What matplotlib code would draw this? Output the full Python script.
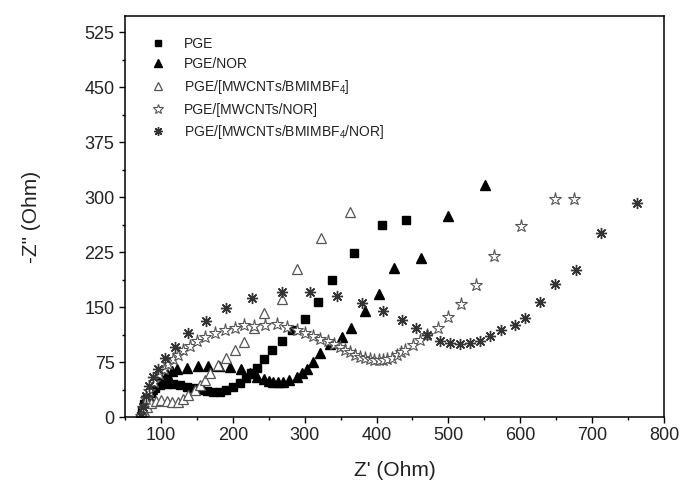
import matplotlib
matplotlib.use("Agg")
import matplotlib.pyplot as plt
from matplotlib.ticker import MultipleLocator

plt.rcParams['font.family'] = ['Liberation Sans', 'DejaVu Sans']
plt.rcParams['mathtext.fontset'] = 'custom'
plt.rcParams['mathtext.rm'] = 'Liberation Sans'
plt.rcParams['mathtext.it'] = 'Liberation Sans'

labels = ["PGE", "PGE/NOR", "PGE/[MWCNTs/BMIMBF$_4$]", "PGE/[MWCNTs/NOR]",
          "PGE/[MWCNTs/BMIMBF$_4$/NOR]"]

pge_x = [72, 74, 77, 81, 86, 92, 99, 108, 117, 127, 136, 145, 155, 164, 173, 182, 191,
         200, 210, 219, 226, 233, 243, 254, 268, 282, 300, 318, 338, 368, 407, 441]
pge_y = [2, 10, 18, 26, 33, 39, 43, 45, 45, 43.5, 41, 39, 36.5, 35, 34, 34.5, 37,
         41, 47, 53, 60, 67, 79, 91, 103, 118, 133, 157, 187, 224, 262, 269]

nor_x = [70, 72, 75, 78, 82, 87, 93, 100, 108, 115, 122, 136, 151, 166, 181, 196, 212,
         224, 234, 243, 250, 256, 263, 270, 278, 289, 296, 303, 312, 321, 335, 352,
         365, 384, 403, 424, 462, 500, 551]
nor_y = [2, 8, 15, 22, 30, 38, 46, 53, 59, 63, 66, 67, 69, 70, 69, 68, 66,
         60, 55, 52, 49, 48, 47.5, 48, 50, 55, 60, 66, 75, 87, 99, 109,
         122, 144, 168, 203, 217, 274, 317]

il_x = [72, 76, 80, 86, 93, 100, 108, 116, 124, 131, 138, 147, 154, 161, 168, 180, 190,
        203, 215, 229, 244, 268, 290, 323, 363]
il_y = [2, 8, 14, 19, 22, 23, 22, 21, 21, 24, 30, 37, 44, 51, 60, 71, 80,
        91, 102, 121, 142, 161, 202, 244, 280]

cnt_x = [72, 75, 79, 84, 90, 97, 104, 110, 117, 124, 131, 140, 150, 162, 175, 189, 203,
         216, 230, 245, 261, 275, 289, 300, 312, 322, 333, 341, 349, 356, 363, 370,
         377, 384, 391, 397, 403, 409, 414, 421, 428, 434, 440, 451, 460, 470, 485,
         500, 517, 538, 563, 601, 649, 675]
cnt_y = [2, 12, 24, 36, 48, 58, 66, 72, 79, 85, 92, 97, 103, 109, 115, 119, 122,
         125, 124, 126, 127, 123, 119, 115, 111, 107, 103, 99, 96, 92, 89, 85,
         82, 80, 78.5, 78, 77.8, 78, 79, 81, 84.6, 88, 91.4, 98, 105, 112, 121,
         137, 154, 180, 219, 260, 297, 297]

all_x = [72, 75, 79, 84, 89, 96, 106, 120, 138, 163, 191, 227, 268, 307, 345, 380, 409,
         435, 455, 470, 488, 502, 516, 530, 544, 558, 573, 593, 607, 628, 648, 678,
         713, 763]
all_y = [2, 14, 28, 42, 54, 66, 80, 96, 114, 131, 149, 162, 170, 170, 165, 156, 144,
         132, 121, 112, 104, 100.5, 99.5, 100.5, 103, 110, 119, 125.5, 134.6, 157, 182, 200,
         251, 292]

fig = plt.figure(figsize=(6.86, 4.93), dpi=100)
ax = fig.add_axes([125 / 686, 76 / 493, 539 / 686, 401 / 493])

ax.plot(pge_x, pge_y, ls='none', marker='s', ms=5.5, color='black', label=labels[0])
ax.plot(nor_x, nor_y, ls='none', marker='^', ms=7, color='black', label=labels[1])
ax.plot(il_x, il_y, ls='none', marker='^', ms=7.5, mfc='white', mec='#555555', mew=0.9,
        label=labels[2])
ax.plot(cnt_x, cnt_y, ls='none', marker='*', ms=9.5, mfc='white', mec='#555555', mew=0.8,
        label=labels[3])
ax.plot(all_x, all_y, ls='none', marker=(8, 2, 0), ms=8, color='#333333', mew=1.0,
        label=labels[4])

ax.set_xlim(50, 800)
ax.set_ylim(0, 547)
ax.xaxis.set_major_locator(MultipleLocator(100))
ax.xaxis.set_minor_locator(MultipleLocator(50))
ax.yaxis.set_major_locator(MultipleLocator(75))
ax.yaxis.set_minor_locator(MultipleLocator(37.5))
ax.set_xticks([100, 200, 300, 400, 500, 600, 700, 800])
ax.tick_params(which='major', direction='out', length=4.5, width=1, labelsize=13,
               labelcolor='#222222', pad=3)
ax.tick_params(which='minor', direction='out', length=2.5, width=1)
for s in ax.spines.values():
    s.set_linewidth(1.1)

ax.set_xlabel("Z' (Ohm)", fontsize=15, color='#222222', labelpad=12)
ax.set_ylabel('-Z" (Ohm)', fontsize=15, color='#222222', labelpad=31)

leg = ax.legend(loc='upper left', bbox_to_anchor=(0.035, 0.966), frameon=False,
                fontsize=10, handlelength=1.0, handletextpad=1.4, labelspacing=0.48,
                borderpad=0.0, markerscale=0.8)
for t in leg.get_texts():
    t.set_color('#222222')

fig.savefig("out.png", dpi=100)
